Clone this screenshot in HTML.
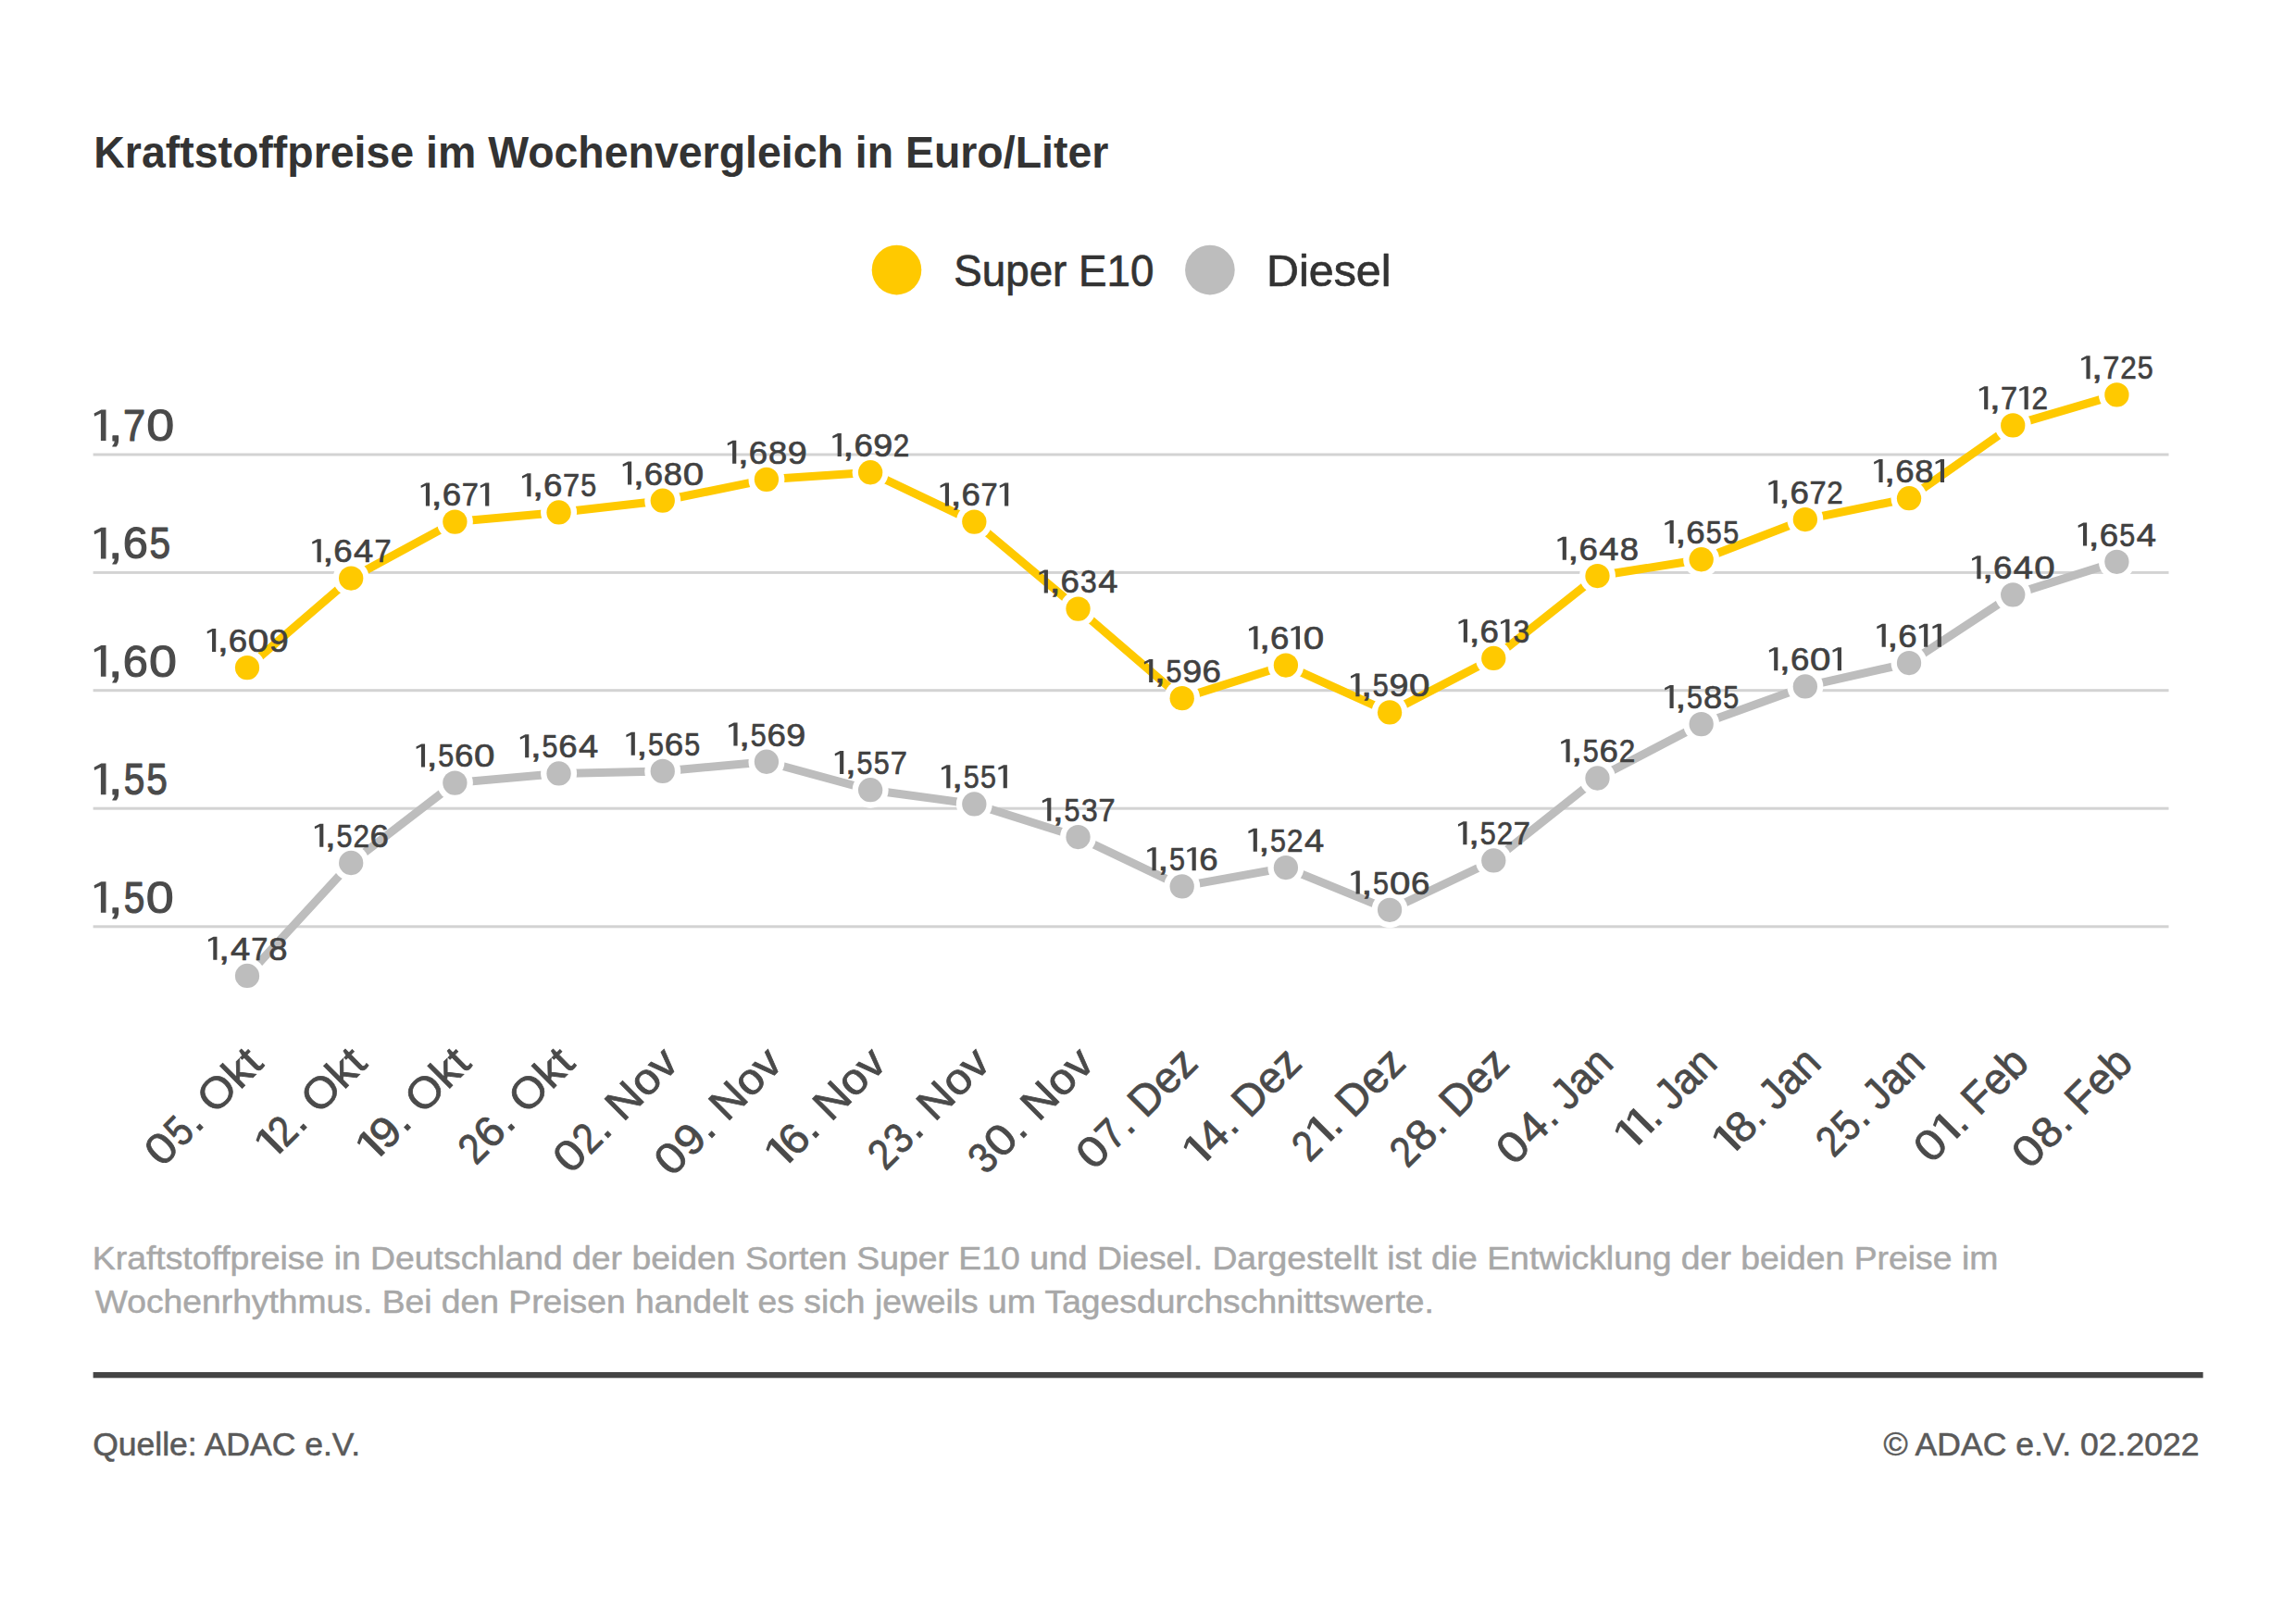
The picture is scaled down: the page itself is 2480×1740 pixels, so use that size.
<!DOCTYPE html>
<html><head><meta charset="utf-8"><style>
html,body{margin:0;padding:0;background:#fff;}
svg{display:block;}
text{font-family:"Liberation Sans",sans-serif;}
</style></head><body>
<svg width="2480" height="1740" viewBox="0 0 2480 1740">
<rect width="2480" height="1740" fill="#fff"/>
<text x="101.30" y="180.80" font-size="48.40" font-weight="bold" fill="#333333" textLength="1096.01" lengthAdjust="spacingAndGlyphs">Kraftstoffpreise im Wochenvergleich in Euro/Liter</text>
<circle cx="968.5" cy="291.6" r="26.8" fill="#FFC900"/>
<text x="1030.32" y="308.50" font-size="47.68" fill="#333333" textLength="216.06" lengthAdjust="spacingAndGlyphs" stroke="#333333" stroke-width="0.7" stroke-linejoin="round">Super E10</text>
<circle cx="1306.9" cy="291.6" r="26.8" fill="#BDBDBD"/>
<text x="1368.03" y="308.50" font-size="47.68" fill="#333333" textLength="134.51" lengthAdjust="spacingAndGlyphs" stroke="#333333" stroke-width="0.7" stroke-linejoin="round">Diesel</text>
<rect x="100.6" y="489.50" width="2241.90" height="3" fill="#D3D3D3"/>
<rect x="100.6" y="616.90" width="2241.90" height="3" fill="#D3D3D3"/>
<rect x="100.6" y="744.20" width="2241.90" height="3" fill="#D3D3D3"/>
<rect x="100.6" y="871.70" width="2241.90" height="3" fill="#D3D3D3"/>
<rect x="100.6" y="999.30" width="2241.90" height="3" fill="#D3D3D3"/>
<path d="M108.91,442.40H114.49V476.00H108.91V446.60L102.03,449.79L101.60,446.43L109.34,442.40Z" fill="#4a4a4a"/>
<text x="116.75" y="476.00" font-size="47.82" fill="#4a4a4a" textLength="15.90" lengthAdjust="spacingAndGlyphs" stroke="#4a4a4a" stroke-width="1.1" stroke-linejoin="round">,</text>
<text x="133.09" y="476.00" font-size="47.82" fill="#4a4a4a" textLength="24.17" lengthAdjust="spacingAndGlyphs" stroke="#4a4a4a" stroke-width="1.1" stroke-linejoin="round">7</text>
<text x="158.37" y="476.00" font-size="47.82" fill="#4a4a4a" textLength="29.94" lengthAdjust="spacingAndGlyphs" stroke="#4a4a4a" stroke-width="1.1" stroke-linejoin="round">0</text>
<path d="M108.91,569.80H114.49V603.40H108.91V574.00L102.03,577.19L101.60,573.83L109.34,569.80Z" fill="#4a4a4a"/>
<text x="116.75" y="603.40" font-size="47.82" fill="#4a4a4a" textLength="15.90" lengthAdjust="spacingAndGlyphs" stroke="#4a4a4a" stroke-width="1.1" stroke-linejoin="round">,</text>
<text x="132.84" y="603.40" font-size="47.82" fill="#4a4a4a" textLength="27.13" lengthAdjust="spacingAndGlyphs" stroke="#4a4a4a" stroke-width="1.1" stroke-linejoin="round">6</text>
<text x="161.60" y="603.40" font-size="47.82" fill="#4a4a4a" textLength="22.61" lengthAdjust="spacingAndGlyphs" stroke="#4a4a4a" stroke-width="1.1" stroke-linejoin="round">5</text>
<path d="M108.91,697.10H114.49V730.70H108.91V701.30L102.03,704.49L101.60,701.13L109.34,697.10Z" fill="#4a4a4a"/>
<text x="116.75" y="730.70" font-size="47.82" fill="#4a4a4a" textLength="15.90" lengthAdjust="spacingAndGlyphs" stroke="#4a4a4a" stroke-width="1.1" stroke-linejoin="round">,</text>
<text x="132.84" y="730.70" font-size="47.82" fill="#4a4a4a" textLength="27.13" lengthAdjust="spacingAndGlyphs" stroke="#4a4a4a" stroke-width="1.1" stroke-linejoin="round">6</text>
<text x="161.13" y="730.70" font-size="47.82" fill="#4a4a4a" textLength="29.94" lengthAdjust="spacingAndGlyphs" stroke="#4a4a4a" stroke-width="1.1" stroke-linejoin="round">0</text>
<path d="M108.91,824.60H114.49V858.20H108.91V828.80L102.03,831.99L101.60,828.63L109.34,824.60Z" fill="#4a4a4a"/>
<text x="116.75" y="858.20" font-size="47.82" fill="#4a4a4a" textLength="15.90" lengthAdjust="spacingAndGlyphs" stroke="#4a4a4a" stroke-width="1.1" stroke-linejoin="round">,</text>
<text x="133.69" y="858.20" font-size="47.82" fill="#4a4a4a" textLength="22.61" lengthAdjust="spacingAndGlyphs" stroke="#4a4a4a" stroke-width="1.1" stroke-linejoin="round">5</text>
<text x="158.37" y="858.20" font-size="47.82" fill="#4a4a4a" textLength="22.61" lengthAdjust="spacingAndGlyphs" stroke="#4a4a4a" stroke-width="1.1" stroke-linejoin="round">5</text>
<path d="M108.91,952.20H114.49V985.80H108.91V956.40L102.03,959.59L101.60,956.23L109.34,952.20Z" fill="#4a4a4a"/>
<text x="116.75" y="985.80" font-size="47.82" fill="#4a4a4a" textLength="15.90" lengthAdjust="spacingAndGlyphs" stroke="#4a4a4a" stroke-width="1.1" stroke-linejoin="round">,</text>
<text x="133.69" y="985.80" font-size="47.82" fill="#4a4a4a" textLength="22.61" lengthAdjust="spacingAndGlyphs" stroke="#4a4a4a" stroke-width="1.1" stroke-linejoin="round">5</text>
<text x="157.89" y="985.80" font-size="47.82" fill="#4a4a4a" textLength="29.94" lengthAdjust="spacingAndGlyphs" stroke="#4a4a4a" stroke-width="1.1" stroke-linejoin="round">0</text>
<polyline points="267.00,1053.93 379.19,931.98 491.38,845.60 603.57,835.44 715.76,832.90 827.95,822.74 940.14,853.22 1052.33,868.47 1164.52,904.04 1276.71,957.39 1388.90,937.06 1501.09,982.80 1613.28,929.44 1725.47,840.52 1837.66,782.09 1949.85,741.44 2062.04,716.03 2174.23,642.35 2286.42,606.78" fill="none" stroke="#BDBDBD" stroke-width="9" stroke-linejoin="round"/>
<polyline points="267.00,721.11 379.19,624.57 491.38,563.59 603.57,553.43 715.76,540.72 827.95,517.86 940.14,510.24 1052.33,563.59 1164.52,657.59 1276.71,754.14 1388.90,718.57 1501.09,769.38 1613.28,710.95 1725.47,622.03 1837.66,604.24 1949.85,561.05 2062.04,538.18 2174.23,459.42 2286.42,426.40" fill="none" stroke="#FFC900" stroke-width="9" stroke-linejoin="round"/>
<circle cx="267.00" cy="1053.93" r="19.5" fill="#fff"/>
<circle cx="267.00" cy="1053.93" r="13.15" fill="#BDBDBD"/>
<circle cx="379.19" cy="931.98" r="19.5" fill="#fff"/>
<circle cx="379.19" cy="931.98" r="13.15" fill="#BDBDBD"/>
<circle cx="491.38" cy="845.60" r="19.5" fill="#fff"/>
<circle cx="491.38" cy="845.60" r="13.15" fill="#BDBDBD"/>
<circle cx="603.57" cy="835.44" r="19.5" fill="#fff"/>
<circle cx="603.57" cy="835.44" r="13.15" fill="#BDBDBD"/>
<circle cx="715.76" cy="832.90" r="19.5" fill="#fff"/>
<circle cx="715.76" cy="832.90" r="13.15" fill="#BDBDBD"/>
<circle cx="827.95" cy="822.74" r="19.5" fill="#fff"/>
<circle cx="827.95" cy="822.74" r="13.15" fill="#BDBDBD"/>
<circle cx="940.14" cy="853.22" r="19.5" fill="#fff"/>
<circle cx="940.14" cy="853.22" r="13.15" fill="#BDBDBD"/>
<circle cx="1052.33" cy="868.47" r="19.5" fill="#fff"/>
<circle cx="1052.33" cy="868.47" r="13.15" fill="#BDBDBD"/>
<circle cx="1164.52" cy="904.04" r="19.5" fill="#fff"/>
<circle cx="1164.52" cy="904.04" r="13.15" fill="#BDBDBD"/>
<circle cx="1276.71" cy="957.39" r="19.5" fill="#fff"/>
<circle cx="1276.71" cy="957.39" r="13.15" fill="#BDBDBD"/>
<circle cx="1388.90" cy="937.06" r="19.5" fill="#fff"/>
<circle cx="1388.90" cy="937.06" r="13.15" fill="#BDBDBD"/>
<circle cx="1501.09" cy="982.80" r="19.5" fill="#fff"/>
<circle cx="1501.09" cy="982.80" r="13.15" fill="#BDBDBD"/>
<circle cx="1613.28" cy="929.44" r="19.5" fill="#fff"/>
<circle cx="1613.28" cy="929.44" r="13.15" fill="#BDBDBD"/>
<circle cx="1725.47" cy="840.52" r="19.5" fill="#fff"/>
<circle cx="1725.47" cy="840.52" r="13.15" fill="#BDBDBD"/>
<circle cx="1837.66" cy="782.09" r="19.5" fill="#fff"/>
<circle cx="1837.66" cy="782.09" r="13.15" fill="#BDBDBD"/>
<circle cx="1949.85" cy="741.44" r="19.5" fill="#fff"/>
<circle cx="1949.85" cy="741.44" r="13.15" fill="#BDBDBD"/>
<circle cx="2062.04" cy="716.03" r="19.5" fill="#fff"/>
<circle cx="2062.04" cy="716.03" r="13.15" fill="#BDBDBD"/>
<circle cx="2174.23" cy="642.35" r="19.5" fill="#fff"/>
<circle cx="2174.23" cy="642.35" r="13.15" fill="#BDBDBD"/>
<circle cx="2286.42" cy="606.78" r="19.5" fill="#fff"/>
<circle cx="2286.42" cy="606.78" r="13.15" fill="#BDBDBD"/>
<circle cx="267.00" cy="721.11" r="19.5" fill="#fff"/>
<circle cx="267.00" cy="721.11" r="13.15" fill="#FFC900"/>
<circle cx="379.19" cy="624.57" r="19.5" fill="#fff"/>
<circle cx="379.19" cy="624.57" r="13.15" fill="#FFC900"/>
<circle cx="491.38" cy="563.59" r="19.5" fill="#fff"/>
<circle cx="491.38" cy="563.59" r="13.15" fill="#FFC900"/>
<circle cx="603.57" cy="553.43" r="19.5" fill="#fff"/>
<circle cx="603.57" cy="553.43" r="13.15" fill="#FFC900"/>
<circle cx="715.76" cy="540.72" r="19.5" fill="#fff"/>
<circle cx="715.76" cy="540.72" r="13.15" fill="#FFC900"/>
<circle cx="827.95" cy="517.86" r="19.5" fill="#fff"/>
<circle cx="827.95" cy="517.86" r="13.15" fill="#FFC900"/>
<circle cx="940.14" cy="510.24" r="19.5" fill="#fff"/>
<circle cx="940.14" cy="510.24" r="13.15" fill="#FFC900"/>
<circle cx="1052.33" cy="563.59" r="19.5" fill="#fff"/>
<circle cx="1052.33" cy="563.59" r="13.15" fill="#FFC900"/>
<circle cx="1164.52" cy="657.59" r="19.5" fill="#fff"/>
<circle cx="1164.52" cy="657.59" r="13.15" fill="#FFC900"/>
<circle cx="1276.71" cy="754.14" r="19.5" fill="#fff"/>
<circle cx="1276.71" cy="754.14" r="13.15" fill="#FFC900"/>
<circle cx="1388.90" cy="718.57" r="19.5" fill="#fff"/>
<circle cx="1388.90" cy="718.57" r="13.15" fill="#FFC900"/>
<circle cx="1501.09" cy="769.38" r="19.5" fill="#fff"/>
<circle cx="1501.09" cy="769.38" r="13.15" fill="#FFC900"/>
<circle cx="1613.28" cy="710.95" r="19.5" fill="#fff"/>
<circle cx="1613.28" cy="710.95" r="13.15" fill="#FFC900"/>
<circle cx="1725.47" cy="622.03" r="19.5" fill="#fff"/>
<circle cx="1725.47" cy="622.03" r="13.15" fill="#FFC900"/>
<circle cx="1837.66" cy="604.24" r="19.5" fill="#fff"/>
<circle cx="1837.66" cy="604.24" r="13.15" fill="#FFC900"/>
<circle cx="1949.85" cy="561.05" r="19.5" fill="#fff"/>
<circle cx="1949.85" cy="561.05" r="13.15" fill="#FFC900"/>
<circle cx="2062.04" cy="538.18" r="19.5" fill="#fff"/>
<circle cx="2062.04" cy="538.18" r="13.15" fill="#FFC900"/>
<circle cx="2174.23" cy="459.42" r="19.5" fill="#fff"/>
<circle cx="2174.23" cy="459.42" r="13.15" fill="#FFC900"/>
<circle cx="2286.42" cy="426.40" r="19.5" fill="#fff"/>
<circle cx="2286.42" cy="426.40" r="13.15" fill="#FFC900"/>
<path d="M230.28,1011.73H234.44V1036.73H230.28V1014.86L225.15,1017.23L224.84,1014.73L230.59,1011.73Z" fill="#414141"/>
<text x="235.95" y="1036.73" font-size="35.90" fill="#414141" textLength="12.17" lengthAdjust="spacingAndGlyphs" stroke="#414141" stroke-width="0.7" stroke-linejoin="round">,</text>
<text x="249.01" y="1036.73" font-size="35.90" fill="#414141" textLength="21.23" lengthAdjust="spacingAndGlyphs" stroke="#414141" stroke-width="0.7" stroke-linejoin="round">4</text>
<text x="271.35" y="1036.73" font-size="35.90" fill="#414141" textLength="18.14" lengthAdjust="spacingAndGlyphs" stroke="#414141" stroke-width="0.7" stroke-linejoin="round">7</text>
<text x="290.18" y="1036.73" font-size="35.90" fill="#414141" textLength="20.22" lengthAdjust="spacingAndGlyphs" stroke="#414141" stroke-width="0.7" stroke-linejoin="round">8</text>
<path d="M345.18,889.78H349.34V914.78H345.18V892.91L340.06,895.28L339.74,892.78L345.50,889.78Z" fill="#414141"/>
<text x="350.85" y="914.78" font-size="35.90" fill="#414141" textLength="12.17" lengthAdjust="spacingAndGlyphs" stroke="#414141" stroke-width="0.7" stroke-linejoin="round">,</text>
<text x="363.57" y="914.78" font-size="35.90" fill="#414141" textLength="16.97" lengthAdjust="spacingAndGlyphs" stroke="#414141" stroke-width="0.7" stroke-linejoin="round">5</text>
<text x="381.58" y="914.78" font-size="35.90" fill="#414141" textLength="17.52" lengthAdjust="spacingAndGlyphs" stroke="#414141" stroke-width="0.7" stroke-linejoin="round">2</text>
<text x="399.55" y="914.78" font-size="35.90" fill="#414141" textLength="20.35" lengthAdjust="spacingAndGlyphs" stroke="#414141" stroke-width="0.7" stroke-linejoin="round">6</text>
<path d="M454.91,803.40H459.06V828.40H454.91V806.53L449.78,808.90L449.46,806.40L455.22,803.40Z" fill="#414141"/>
<text x="460.58" y="828.40" font-size="35.90" fill="#414141" textLength="12.17" lengthAdjust="spacingAndGlyphs" stroke="#414141" stroke-width="0.7" stroke-linejoin="round">,</text>
<text x="473.29" y="828.40" font-size="35.90" fill="#414141" textLength="16.97" lengthAdjust="spacingAndGlyphs" stroke="#414141" stroke-width="0.7" stroke-linejoin="round">5</text>
<text x="491.03" y="828.40" font-size="35.90" fill="#414141" textLength="20.35" lengthAdjust="spacingAndGlyphs" stroke="#414141" stroke-width="0.7" stroke-linejoin="round">6</text>
<text x="512.09" y="828.40" font-size="35.90" fill="#414141" textLength="22.43" lengthAdjust="spacingAndGlyphs" stroke="#414141" stroke-width="0.7" stroke-linejoin="round">0</text>
<path d="M567.12,793.24H571.27V818.24H567.12V796.36L561.99,798.74L561.67,796.24L567.43,793.24Z" fill="#414141"/>
<text x="572.79" y="818.24" font-size="35.90" fill="#414141" textLength="12.17" lengthAdjust="spacingAndGlyphs" stroke="#414141" stroke-width="0.7" stroke-linejoin="round">,</text>
<text x="585.50" y="818.24" font-size="35.90" fill="#414141" textLength="16.97" lengthAdjust="spacingAndGlyphs" stroke="#414141" stroke-width="0.7" stroke-linejoin="round">5</text>
<text x="603.24" y="818.24" font-size="35.90" fill="#414141" textLength="20.35" lengthAdjust="spacingAndGlyphs" stroke="#414141" stroke-width="0.7" stroke-linejoin="round">6</text>
<text x="625.00" y="818.24" font-size="35.90" fill="#414141" textLength="21.23" lengthAdjust="spacingAndGlyphs" stroke="#414141" stroke-width="0.7" stroke-linejoin="round">4</text>
<path d="M681.69,790.70H685.85V815.70H681.69V793.82L676.57,796.20L676.25,793.70L682.01,790.70Z" fill="#414141"/>
<text x="687.36" y="815.70" font-size="35.90" fill="#414141" textLength="12.17" lengthAdjust="spacingAndGlyphs" stroke="#414141" stroke-width="0.7" stroke-linejoin="round">,</text>
<text x="700.08" y="815.70" font-size="35.90" fill="#414141" textLength="16.97" lengthAdjust="spacingAndGlyphs" stroke="#414141" stroke-width="0.7" stroke-linejoin="round">5</text>
<text x="717.81" y="815.70" font-size="35.90" fill="#414141" textLength="20.35" lengthAdjust="spacingAndGlyphs" stroke="#414141" stroke-width="0.7" stroke-linejoin="round">6</text>
<text x="739.23" y="815.70" font-size="35.90" fill="#414141" textLength="16.97" lengthAdjust="spacingAndGlyphs" stroke="#414141" stroke-width="0.7" stroke-linejoin="round">5</text>
<path d="M792.40,780.54H796.56V805.54H792.40V783.66L787.28,786.04L786.96,783.54L792.72,780.54Z" fill="#414141"/>
<text x="798.07" y="805.54" font-size="35.90" fill="#414141" textLength="12.17" lengthAdjust="spacingAndGlyphs" stroke="#414141" stroke-width="0.7" stroke-linejoin="round">,</text>
<text x="810.79" y="805.54" font-size="35.90" fill="#414141" textLength="16.97" lengthAdjust="spacingAndGlyphs" stroke="#414141" stroke-width="0.7" stroke-linejoin="round">5</text>
<text x="828.52" y="805.54" font-size="35.90" fill="#414141" textLength="20.35" lengthAdjust="spacingAndGlyphs" stroke="#414141" stroke-width="0.7" stroke-linejoin="round">6</text>
<text x="849.39" y="805.54" font-size="35.90" fill="#414141" textLength="20.99" lengthAdjust="spacingAndGlyphs" stroke="#414141" stroke-width="0.7" stroke-linejoin="round">9</text>
<path d="M907.10,811.02H911.25V836.02H907.10V814.15L901.97,816.52L901.65,814.02L907.41,811.02Z" fill="#414141"/>
<text x="912.77" y="836.02" font-size="35.90" fill="#414141" textLength="12.17" lengthAdjust="spacingAndGlyphs" stroke="#414141" stroke-width="0.7" stroke-linejoin="round">,</text>
<text x="925.48" y="836.02" font-size="35.90" fill="#414141" textLength="16.97" lengthAdjust="spacingAndGlyphs" stroke="#414141" stroke-width="0.7" stroke-linejoin="round">5</text>
<text x="943.85" y="836.02" font-size="35.90" fill="#414141" textLength="16.97" lengthAdjust="spacingAndGlyphs" stroke="#414141" stroke-width="0.7" stroke-linejoin="round">5</text>
<text x="961.77" y="836.02" font-size="35.90" fill="#414141" textLength="18.14" lengthAdjust="spacingAndGlyphs" stroke="#414141" stroke-width="0.7" stroke-linejoin="round">7</text>
<path d="M1022.25,826.27H1026.41V851.27H1022.25V829.39L1017.13,831.77L1016.81,829.27L1022.57,826.27Z" fill="#414141"/>
<text x="1027.92" y="851.27" font-size="35.90" fill="#414141" textLength="12.17" lengthAdjust="spacingAndGlyphs" stroke="#414141" stroke-width="0.7" stroke-linejoin="round">,</text>
<text x="1040.64" y="851.27" font-size="35.90" fill="#414141" textLength="16.97" lengthAdjust="spacingAndGlyphs" stroke="#414141" stroke-width="0.7" stroke-linejoin="round">5</text>
<text x="1059.01" y="851.27" font-size="35.90" fill="#414141" textLength="16.97" lengthAdjust="spacingAndGlyphs" stroke="#414141" stroke-width="0.7" stroke-linejoin="round">5</text>
<path d="M1083.69,826.27H1087.85V851.27H1083.69V829.39L1078.57,831.77L1078.25,829.27L1084.01,826.27Z" fill="#414141"/>
<path d="M1131.18,861.84H1135.33V886.84H1131.18V864.96L1126.05,867.34L1125.73,864.84L1131.49,861.84Z" fill="#414141"/>
<text x="1136.85" y="886.84" font-size="35.90" fill="#414141" textLength="12.17" lengthAdjust="spacingAndGlyphs" stroke="#414141" stroke-width="0.7" stroke-linejoin="round">,</text>
<text x="1149.56" y="886.84" font-size="35.90" fill="#414141" textLength="16.97" lengthAdjust="spacingAndGlyphs" stroke="#414141" stroke-width="0.7" stroke-linejoin="round">5</text>
<text x="1167.94" y="886.84" font-size="35.90" fill="#414141" textLength="17.68" lengthAdjust="spacingAndGlyphs" stroke="#414141" stroke-width="0.7" stroke-linejoin="round">3</text>
<text x="1186.45" y="886.84" font-size="35.90" fill="#414141" textLength="18.14" lengthAdjust="spacingAndGlyphs" stroke="#414141" stroke-width="0.7" stroke-linejoin="round">7</text>
<path d="M1244.53,915.19H1248.68V940.19H1244.53V918.31L1239.40,920.69L1239.09,918.19L1244.85,915.19Z" fill="#414141"/>
<text x="1250.20" y="940.19" font-size="35.90" fill="#414141" textLength="12.17" lengthAdjust="spacingAndGlyphs" stroke="#414141" stroke-width="0.7" stroke-linejoin="round">,</text>
<text x="1262.91" y="940.19" font-size="35.90" fill="#414141" textLength="16.97" lengthAdjust="spacingAndGlyphs" stroke="#414141" stroke-width="0.7" stroke-linejoin="round">5</text>
<path d="M1287.60,915.19H1291.75V940.19H1287.60V918.31L1282.47,920.69L1282.15,918.19L1287.91,915.19Z" fill="#414141"/>
<text x="1295.25" y="940.19" font-size="35.90" fill="#414141" textLength="20.35" lengthAdjust="spacingAndGlyphs" stroke="#414141" stroke-width="0.7" stroke-linejoin="round">6</text>
<path d="M1353.71,894.86H1357.87V919.86H1353.71V897.99L1348.59,900.36L1348.27,897.86L1354.03,894.86Z" fill="#414141"/>
<text x="1359.38" y="919.86" font-size="35.90" fill="#414141" textLength="12.17" lengthAdjust="spacingAndGlyphs" stroke="#414141" stroke-width="0.7" stroke-linejoin="round">,</text>
<text x="1372.10" y="919.86" font-size="35.90" fill="#414141" textLength="16.97" lengthAdjust="spacingAndGlyphs" stroke="#414141" stroke-width="0.7" stroke-linejoin="round">5</text>
<text x="1390.11" y="919.86" font-size="35.90" fill="#414141" textLength="17.52" lengthAdjust="spacingAndGlyphs" stroke="#414141" stroke-width="0.7" stroke-linejoin="round">2</text>
<text x="1409.06" y="919.86" font-size="35.90" fill="#414141" textLength="21.23" lengthAdjust="spacingAndGlyphs" stroke="#414141" stroke-width="0.7" stroke-linejoin="round">4</text>
<path d="M1464.62,940.60H1468.77V965.60H1464.62V943.72L1459.49,946.10L1459.17,943.60L1464.93,940.60Z" fill="#414141"/>
<text x="1470.29" y="965.60" font-size="35.90" fill="#414141" textLength="12.17" lengthAdjust="spacingAndGlyphs" stroke="#414141" stroke-width="0.7" stroke-linejoin="round">,</text>
<text x="1483.00" y="965.60" font-size="35.90" fill="#414141" textLength="16.97" lengthAdjust="spacingAndGlyphs" stroke="#414141" stroke-width="0.7" stroke-linejoin="round">5</text>
<text x="1501.02" y="965.60" font-size="35.90" fill="#414141" textLength="22.43" lengthAdjust="spacingAndGlyphs" stroke="#414141" stroke-width="0.7" stroke-linejoin="round">0</text>
<text x="1523.92" y="965.60" font-size="35.90" fill="#414141" textLength="20.35" lengthAdjust="spacingAndGlyphs" stroke="#414141" stroke-width="0.7" stroke-linejoin="round">6</text>
<path d="M1580.30,887.24H1584.45V912.24H1580.30V890.37L1575.17,892.74L1574.86,890.24L1580.62,887.24Z" fill="#414141"/>
<text x="1585.97" y="912.24" font-size="35.90" fill="#414141" textLength="12.17" lengthAdjust="spacingAndGlyphs" stroke="#414141" stroke-width="0.7" stroke-linejoin="round">,</text>
<text x="1598.68" y="912.24" font-size="35.90" fill="#414141" textLength="16.97" lengthAdjust="spacingAndGlyphs" stroke="#414141" stroke-width="0.7" stroke-linejoin="round">5</text>
<text x="1616.69" y="912.24" font-size="35.90" fill="#414141" textLength="17.52" lengthAdjust="spacingAndGlyphs" stroke="#414141" stroke-width="0.7" stroke-linejoin="round">2</text>
<text x="1634.85" y="912.24" font-size="35.90" fill="#414141" textLength="18.14" lengthAdjust="spacingAndGlyphs" stroke="#414141" stroke-width="0.7" stroke-linejoin="round">7</text>
<path d="M1691.46,798.32H1695.62V823.32H1691.46V801.45L1686.34,803.82L1686.02,801.32L1691.78,798.32Z" fill="#414141"/>
<text x="1697.13" y="823.32" font-size="35.90" fill="#414141" textLength="12.17" lengthAdjust="spacingAndGlyphs" stroke="#414141" stroke-width="0.7" stroke-linejoin="round">,</text>
<text x="1709.85" y="823.32" font-size="35.90" fill="#414141" textLength="16.97" lengthAdjust="spacingAndGlyphs" stroke="#414141" stroke-width="0.7" stroke-linejoin="round">5</text>
<text x="1727.58" y="823.32" font-size="35.90" fill="#414141" textLength="20.35" lengthAdjust="spacingAndGlyphs" stroke="#414141" stroke-width="0.7" stroke-linejoin="round">6</text>
<text x="1748.64" y="823.32" font-size="35.90" fill="#414141" textLength="17.52" lengthAdjust="spacingAndGlyphs" stroke="#414141" stroke-width="0.7" stroke-linejoin="round">2</text>
<path d="M1803.50,739.89H1807.66V764.89H1803.50V743.01L1798.38,745.39L1798.06,742.89L1803.82,739.89Z" fill="#414141"/>
<text x="1809.17" y="764.89" font-size="35.90" fill="#414141" textLength="12.17" lengthAdjust="spacingAndGlyphs" stroke="#414141" stroke-width="0.7" stroke-linejoin="round">,</text>
<text x="1821.89" y="764.89" font-size="35.90" fill="#414141" textLength="16.97" lengthAdjust="spacingAndGlyphs" stroke="#414141" stroke-width="0.7" stroke-linejoin="round">5</text>
<text x="1839.90" y="764.89" font-size="35.90" fill="#414141" textLength="20.22" lengthAdjust="spacingAndGlyphs" stroke="#414141" stroke-width="0.7" stroke-linejoin="round">8</text>
<text x="1861.22" y="764.89" font-size="35.90" fill="#414141" textLength="16.97" lengthAdjust="spacingAndGlyphs" stroke="#414141" stroke-width="0.7" stroke-linejoin="round">5</text>
<path d="M1916.16,699.24H1920.32V724.24H1916.16V702.36L1911.04,704.74L1910.72,702.24L1916.48,699.24Z" fill="#414141"/>
<text x="1921.83" y="724.24" font-size="35.90" fill="#414141" textLength="12.17" lengthAdjust="spacingAndGlyphs" stroke="#414141" stroke-width="0.7" stroke-linejoin="round">,</text>
<text x="1933.91" y="724.24" font-size="35.90" fill="#414141" textLength="20.35" lengthAdjust="spacingAndGlyphs" stroke="#414141" stroke-width="0.7" stroke-linejoin="round">6</text>
<text x="1954.97" y="724.24" font-size="35.90" fill="#414141" textLength="22.43" lengthAdjust="spacingAndGlyphs" stroke="#414141" stroke-width="0.7" stroke-linejoin="round">0</text>
<path d="M1984.82,699.24H1988.98V724.24H1984.82V702.36L1979.70,704.74L1979.38,702.24L1985.14,699.24Z" fill="#414141"/>
<path d="M2032.64,673.83H2036.80V698.83H2032.64V676.95L2027.52,679.33L2027.20,676.83L2032.96,673.83Z" fill="#414141"/>
<text x="2038.31" y="698.83" font-size="35.90" fill="#414141" textLength="12.17" lengthAdjust="spacingAndGlyphs" stroke="#414141" stroke-width="0.7" stroke-linejoin="round">,</text>
<text x="2050.39" y="698.83" font-size="35.90" fill="#414141" textLength="20.35" lengthAdjust="spacingAndGlyphs" stroke="#414141" stroke-width="0.7" stroke-linejoin="round">6</text>
<path d="M2078.12,673.83H2082.28V698.83H2078.12V676.95L2073.00,679.33L2072.68,676.83L2078.44,673.83Z" fill="#414141"/>
<path d="M2092.72,673.83H2096.88V698.83H2092.72V676.95L2087.60,679.33L2087.28,676.83L2093.04,673.83Z" fill="#414141"/>
<path d="M2135.37,600.15H2139.53V625.15H2135.37V603.28L2130.25,605.65L2129.93,603.15L2135.69,600.15Z" fill="#414141"/>
<text x="2141.04" y="625.15" font-size="35.90" fill="#414141" textLength="12.17" lengthAdjust="spacingAndGlyphs" stroke="#414141" stroke-width="0.7" stroke-linejoin="round">,</text>
<text x="2153.12" y="625.15" font-size="35.90" fill="#414141" textLength="20.35" lengthAdjust="spacingAndGlyphs" stroke="#414141" stroke-width="0.7" stroke-linejoin="round">6</text>
<text x="2174.88" y="625.15" font-size="35.90" fill="#414141" textLength="21.23" lengthAdjust="spacingAndGlyphs" stroke="#414141" stroke-width="0.7" stroke-linejoin="round">4</text>
<text x="2197.32" y="625.15" font-size="35.90" fill="#414141" textLength="22.43" lengthAdjust="spacingAndGlyphs" stroke="#414141" stroke-width="0.7" stroke-linejoin="round">0</text>
<path d="M2249.97,564.58H2254.12V589.58H2249.97V567.71L2244.84,570.08L2244.53,567.58L2250.29,564.58Z" fill="#414141"/>
<text x="2255.64" y="589.58" font-size="35.90" fill="#414141" textLength="12.17" lengthAdjust="spacingAndGlyphs" stroke="#414141" stroke-width="0.7" stroke-linejoin="round">,</text>
<text x="2267.72" y="589.58" font-size="35.90" fill="#414141" textLength="20.35" lengthAdjust="spacingAndGlyphs" stroke="#414141" stroke-width="0.7" stroke-linejoin="round">6</text>
<text x="2289.13" y="589.58" font-size="35.90" fill="#414141" textLength="16.97" lengthAdjust="spacingAndGlyphs" stroke="#414141" stroke-width="0.7" stroke-linejoin="round">5</text>
<text x="2307.85" y="589.58" font-size="35.90" fill="#414141" textLength="21.23" lengthAdjust="spacingAndGlyphs" stroke="#414141" stroke-width="0.7" stroke-linejoin="round">4</text>
<path d="M229.05,678.91H233.21V703.91H229.05V682.04L223.92,684.41L223.61,681.91L229.37,678.91Z" fill="#414141"/>
<text x="234.72" y="703.91" font-size="35.90" fill="#414141" textLength="12.17" lengthAdjust="spacingAndGlyphs" stroke="#414141" stroke-width="0.7" stroke-linejoin="round">,</text>
<text x="246.80" y="703.91" font-size="35.90" fill="#414141" textLength="20.35" lengthAdjust="spacingAndGlyphs" stroke="#414141" stroke-width="0.7" stroke-linejoin="round">6</text>
<text x="267.86" y="703.91" font-size="35.90" fill="#414141" textLength="22.43" lengthAdjust="spacingAndGlyphs" stroke="#414141" stroke-width="0.7" stroke-linejoin="round">0</text>
<text x="290.85" y="703.91" font-size="35.90" fill="#414141" textLength="20.99" lengthAdjust="spacingAndGlyphs" stroke="#414141" stroke-width="0.7" stroke-linejoin="round">9</text>
<path d="M342.56,582.37H346.72V607.37H342.56V585.49L337.43,587.87L337.12,585.37L342.88,582.37Z" fill="#414141"/>
<text x="348.23" y="607.37" font-size="35.90" fill="#414141" textLength="12.17" lengthAdjust="spacingAndGlyphs" stroke="#414141" stroke-width="0.7" stroke-linejoin="round">,</text>
<text x="360.31" y="607.37" font-size="35.90" fill="#414141" textLength="20.35" lengthAdjust="spacingAndGlyphs" stroke="#414141" stroke-width="0.7" stroke-linejoin="round">6</text>
<text x="382.07" y="607.37" font-size="35.90" fill="#414141" textLength="21.23" lengthAdjust="spacingAndGlyphs" stroke="#414141" stroke-width="0.7" stroke-linejoin="round">4</text>
<text x="404.41" y="607.37" font-size="35.90" fill="#414141" textLength="18.14" lengthAdjust="spacingAndGlyphs" stroke="#414141" stroke-width="0.7" stroke-linejoin="round">7</text>
<path d="M459.92,521.39H464.08V546.39H459.92V524.52L454.79,526.89L454.48,524.39L460.24,521.39Z" fill="#414141"/>
<text x="465.59" y="546.39" font-size="35.90" fill="#414141" textLength="12.17" lengthAdjust="spacingAndGlyphs" stroke="#414141" stroke-width="0.7" stroke-linejoin="round">,</text>
<text x="477.67" y="546.39" font-size="35.90" fill="#414141" textLength="20.35" lengthAdjust="spacingAndGlyphs" stroke="#414141" stroke-width="0.7" stroke-linejoin="round">6</text>
<text x="498.63" y="546.39" font-size="35.90" fill="#414141" textLength="18.14" lengthAdjust="spacingAndGlyphs" stroke="#414141" stroke-width="0.7" stroke-linejoin="round">7</text>
<path d="M524.13,521.39H528.28V546.39H524.13V524.52L519.00,526.89L518.68,524.39L524.44,521.39Z" fill="#414141"/>
<path d="M569.32,511.23H573.48V536.23H569.32V514.35L564.20,516.73L563.88,514.23L569.64,511.23Z" fill="#414141"/>
<text x="574.99" y="536.23" font-size="35.90" fill="#414141" textLength="12.17" lengthAdjust="spacingAndGlyphs" stroke="#414141" stroke-width="0.7" stroke-linejoin="round">,</text>
<text x="587.07" y="536.23" font-size="35.90" fill="#414141" textLength="20.35" lengthAdjust="spacingAndGlyphs" stroke="#414141" stroke-width="0.7" stroke-linejoin="round">6</text>
<text x="608.04" y="536.23" font-size="35.90" fill="#414141" textLength="18.14" lengthAdjust="spacingAndGlyphs" stroke="#414141" stroke-width="0.7" stroke-linejoin="round">7</text>
<text x="627.22" y="536.23" font-size="35.90" fill="#414141" textLength="16.97" lengthAdjust="spacingAndGlyphs" stroke="#414141" stroke-width="0.7" stroke-linejoin="round">5</text>
<path d="M677.99,498.52H682.15V523.52H677.99V501.65L672.87,504.02L672.55,501.52L678.31,498.52Z" fill="#414141"/>
<text x="683.66" y="523.52" font-size="35.90" fill="#414141" textLength="12.17" lengthAdjust="spacingAndGlyphs" stroke="#414141" stroke-width="0.7" stroke-linejoin="round">,</text>
<text x="695.74" y="523.52" font-size="35.90" fill="#414141" textLength="20.35" lengthAdjust="spacingAndGlyphs" stroke="#414141" stroke-width="0.7" stroke-linejoin="round">6</text>
<text x="716.80" y="523.52" font-size="35.90" fill="#414141" textLength="20.22" lengthAdjust="spacingAndGlyphs" stroke="#414141" stroke-width="0.7" stroke-linejoin="round">8</text>
<text x="737.76" y="523.52" font-size="35.90" fill="#414141" textLength="22.43" lengthAdjust="spacingAndGlyphs" stroke="#414141" stroke-width="0.7" stroke-linejoin="round">0</text>
<path d="M791.11,475.66H795.27V500.66H791.11V478.78L785.98,481.16L785.67,478.66L791.43,475.66Z" fill="#414141"/>
<text x="796.78" y="500.66" font-size="35.90" fill="#414141" textLength="12.17" lengthAdjust="spacingAndGlyphs" stroke="#414141" stroke-width="0.7" stroke-linejoin="round">,</text>
<text x="808.86" y="500.66" font-size="35.90" fill="#414141" textLength="20.35" lengthAdjust="spacingAndGlyphs" stroke="#414141" stroke-width="0.7" stroke-linejoin="round">6</text>
<text x="829.92" y="500.66" font-size="35.90" fill="#414141" textLength="20.22" lengthAdjust="spacingAndGlyphs" stroke="#414141" stroke-width="0.7" stroke-linejoin="round">8</text>
<text x="850.69" y="500.66" font-size="35.90" fill="#414141" textLength="20.99" lengthAdjust="spacingAndGlyphs" stroke="#414141" stroke-width="0.7" stroke-linejoin="round">9</text>
<path d="M904.65,468.04H908.81V493.04H904.65V471.16L899.53,473.54L899.21,471.04L904.97,468.04Z" fill="#414141"/>
<text x="910.32" y="493.04" font-size="35.90" fill="#414141" textLength="12.17" lengthAdjust="spacingAndGlyphs" stroke="#414141" stroke-width="0.7" stroke-linejoin="round">,</text>
<text x="922.40" y="493.04" font-size="35.90" fill="#414141" textLength="20.35" lengthAdjust="spacingAndGlyphs" stroke="#414141" stroke-width="0.7" stroke-linejoin="round">6</text>
<text x="943.27" y="493.04" font-size="35.90" fill="#414141" textLength="20.99" lengthAdjust="spacingAndGlyphs" stroke="#414141" stroke-width="0.7" stroke-linejoin="round">9</text>
<text x="964.79" y="493.04" font-size="35.90" fill="#414141" textLength="17.52" lengthAdjust="spacingAndGlyphs" stroke="#414141" stroke-width="0.7" stroke-linejoin="round">2</text>
<path d="M1020.87,521.39H1025.02V546.39H1020.87V524.52L1015.74,526.89L1015.42,524.39L1021.18,521.39Z" fill="#414141"/>
<text x="1026.54" y="546.39" font-size="35.90" fill="#414141" textLength="12.17" lengthAdjust="spacingAndGlyphs" stroke="#414141" stroke-width="0.7" stroke-linejoin="round">,</text>
<text x="1038.62" y="546.39" font-size="35.90" fill="#414141" textLength="20.35" lengthAdjust="spacingAndGlyphs" stroke="#414141" stroke-width="0.7" stroke-linejoin="round">6</text>
<text x="1059.58" y="546.39" font-size="35.90" fill="#414141" textLength="18.14" lengthAdjust="spacingAndGlyphs" stroke="#414141" stroke-width="0.7" stroke-linejoin="round">7</text>
<path d="M1085.08,521.39H1089.23V546.39H1085.08V524.52L1079.95,526.89L1079.63,524.39L1085.39,521.39Z" fill="#414141"/>
<path d="M1127.77,615.39H1131.92V640.39H1127.77V618.52L1122.64,620.89L1122.33,618.39L1128.09,615.39Z" fill="#414141"/>
<text x="1133.44" y="640.39" font-size="35.90" fill="#414141" textLength="12.17" lengthAdjust="spacingAndGlyphs" stroke="#414141" stroke-width="0.7" stroke-linejoin="round">,</text>
<text x="1145.52" y="640.39" font-size="35.90" fill="#414141" textLength="20.35" lengthAdjust="spacingAndGlyphs" stroke="#414141" stroke-width="0.7" stroke-linejoin="round">6</text>
<text x="1166.94" y="640.39" font-size="35.90" fill="#414141" textLength="17.68" lengthAdjust="spacingAndGlyphs" stroke="#414141" stroke-width="0.7" stroke-linejoin="round">3</text>
<text x="1186.25" y="640.39" font-size="35.90" fill="#414141" textLength="21.23" lengthAdjust="spacingAndGlyphs" stroke="#414141" stroke-width="0.7" stroke-linejoin="round">4</text>
<path d="M1241.16,711.94H1245.32V736.94H1241.16V715.06L1236.04,717.44L1235.72,714.94L1241.48,711.94Z" fill="#414141"/>
<text x="1246.83" y="736.94" font-size="35.90" fill="#414141" textLength="12.17" lengthAdjust="spacingAndGlyphs" stroke="#414141" stroke-width="0.7" stroke-linejoin="round">,</text>
<text x="1259.55" y="736.94" font-size="35.90" fill="#414141" textLength="16.97" lengthAdjust="spacingAndGlyphs" stroke="#414141" stroke-width="0.7" stroke-linejoin="round">5</text>
<text x="1277.37" y="736.94" font-size="35.90" fill="#414141" textLength="20.99" lengthAdjust="spacingAndGlyphs" stroke="#414141" stroke-width="0.7" stroke-linejoin="round">9</text>
<text x="1298.61" y="736.94" font-size="35.90" fill="#414141" textLength="20.35" lengthAdjust="spacingAndGlyphs" stroke="#414141" stroke-width="0.7" stroke-linejoin="round">6</text>
<path d="M1354.31,676.37H1358.47V701.37H1354.31V679.49L1349.19,681.87L1348.87,679.37L1354.63,676.37Z" fill="#414141"/>
<text x="1359.98" y="701.37" font-size="35.90" fill="#414141" textLength="12.17" lengthAdjust="spacingAndGlyphs" stroke="#414141" stroke-width="0.7" stroke-linejoin="round">,</text>
<text x="1372.06" y="701.37" font-size="35.90" fill="#414141" textLength="20.35" lengthAdjust="spacingAndGlyphs" stroke="#414141" stroke-width="0.7" stroke-linejoin="round">6</text>
<path d="M1399.79,676.37H1403.95V701.37H1399.79V679.49L1394.67,681.87L1394.35,679.37L1400.11,676.37Z" fill="#414141"/>
<text x="1407.72" y="701.37" font-size="35.90" fill="#414141" textLength="22.43" lengthAdjust="spacingAndGlyphs" stroke="#414141" stroke-width="0.7" stroke-linejoin="round">0</text>
<path d="M1464.34,727.18H1468.50V752.18H1464.34V730.31L1459.22,732.68L1458.90,730.18L1464.66,727.18Z" fill="#414141"/>
<text x="1470.01" y="752.18" font-size="35.90" fill="#414141" textLength="12.17" lengthAdjust="spacingAndGlyphs" stroke="#414141" stroke-width="0.7" stroke-linejoin="round">,</text>
<text x="1482.73" y="752.18" font-size="35.90" fill="#414141" textLength="16.97" lengthAdjust="spacingAndGlyphs" stroke="#414141" stroke-width="0.7" stroke-linejoin="round">5</text>
<text x="1500.55" y="752.18" font-size="35.90" fill="#414141" textLength="20.99" lengthAdjust="spacingAndGlyphs" stroke="#414141" stroke-width="0.7" stroke-linejoin="round">9</text>
<text x="1522.07" y="752.18" font-size="35.90" fill="#414141" textLength="22.43" lengthAdjust="spacingAndGlyphs" stroke="#414141" stroke-width="0.7" stroke-linejoin="round">0</text>
<path d="M1580.80,668.75H1584.95V693.75H1580.80V671.87L1575.67,674.25L1575.36,671.75L1581.12,668.75Z" fill="#414141"/>
<text x="1586.47" y="693.75" font-size="35.90" fill="#414141" textLength="12.17" lengthAdjust="spacingAndGlyphs" stroke="#414141" stroke-width="0.7" stroke-linejoin="round">,</text>
<text x="1598.55" y="693.75" font-size="35.90" fill="#414141" textLength="20.35" lengthAdjust="spacingAndGlyphs" stroke="#414141" stroke-width="0.7" stroke-linejoin="round">6</text>
<path d="M1626.28,668.75H1630.43V693.75H1626.28V671.87L1621.15,674.25L1620.84,671.75L1626.60,668.75Z" fill="#414141"/>
<text x="1634.57" y="693.75" font-size="35.90" fill="#414141" textLength="17.68" lengthAdjust="spacingAndGlyphs" stroke="#414141" stroke-width="0.7" stroke-linejoin="round">3</text>
<path d="M1687.72,579.83H1691.88V604.83H1687.72V582.95L1682.60,585.33L1682.28,582.83L1688.04,579.83Z" fill="#414141"/>
<text x="1693.39" y="604.83" font-size="35.90" fill="#414141" textLength="12.17" lengthAdjust="spacingAndGlyphs" stroke="#414141" stroke-width="0.7" stroke-linejoin="round">,</text>
<text x="1705.47" y="604.83" font-size="35.90" fill="#414141" textLength="20.35" lengthAdjust="spacingAndGlyphs" stroke="#414141" stroke-width="0.7" stroke-linejoin="round">6</text>
<text x="1727.23" y="604.83" font-size="35.90" fill="#414141" textLength="21.23" lengthAdjust="spacingAndGlyphs" stroke="#414141" stroke-width="0.7" stroke-linejoin="round">4</text>
<text x="1749.67" y="604.83" font-size="35.90" fill="#414141" textLength="20.22" lengthAdjust="spacingAndGlyphs" stroke="#414141" stroke-width="0.7" stroke-linejoin="round">8</text>
<path d="M1803.59,562.04H1807.75V587.04H1803.59V565.17L1798.47,567.54L1798.15,565.04L1803.91,562.04Z" fill="#414141"/>
<text x="1809.26" y="587.04" font-size="35.90" fill="#414141" textLength="12.17" lengthAdjust="spacingAndGlyphs" stroke="#414141" stroke-width="0.7" stroke-linejoin="round">,</text>
<text x="1821.34" y="587.04" font-size="35.90" fill="#414141" textLength="20.35" lengthAdjust="spacingAndGlyphs" stroke="#414141" stroke-width="0.7" stroke-linejoin="round">6</text>
<text x="1842.76" y="587.04" font-size="35.90" fill="#414141" textLength="16.97" lengthAdjust="spacingAndGlyphs" stroke="#414141" stroke-width="0.7" stroke-linejoin="round">5</text>
<text x="1861.13" y="587.04" font-size="35.90" fill="#414141" textLength="16.97" lengthAdjust="spacingAndGlyphs" stroke="#414141" stroke-width="0.7" stroke-linejoin="round">5</text>
<path d="M1915.66,518.85H1919.82V543.85H1915.66V521.97L1910.54,524.35L1910.22,521.85L1915.98,518.85Z" fill="#414141"/>
<text x="1921.33" y="543.85" font-size="35.90" fill="#414141" textLength="12.17" lengthAdjust="spacingAndGlyphs" stroke="#414141" stroke-width="0.7" stroke-linejoin="round">,</text>
<text x="1933.41" y="543.85" font-size="35.90" fill="#414141" textLength="20.35" lengthAdjust="spacingAndGlyphs" stroke="#414141" stroke-width="0.7" stroke-linejoin="round">6</text>
<text x="1954.38" y="543.85" font-size="35.90" fill="#414141" textLength="18.14" lengthAdjust="spacingAndGlyphs" stroke="#414141" stroke-width="0.7" stroke-linejoin="round">7</text>
<text x="1973.20" y="543.85" font-size="35.90" fill="#414141" textLength="17.52" lengthAdjust="spacingAndGlyphs" stroke="#414141" stroke-width="0.7" stroke-linejoin="round">2</text>
<path d="M2029.46,495.98H2033.62V520.98H2029.46V499.11L2024.34,501.48L2024.02,498.98L2029.78,495.98Z" fill="#414141"/>
<text x="2035.13" y="520.98" font-size="35.90" fill="#414141" textLength="12.17" lengthAdjust="spacingAndGlyphs" stroke="#414141" stroke-width="0.7" stroke-linejoin="round">,</text>
<text x="2047.21" y="520.98" font-size="35.90" fill="#414141" textLength="20.35" lengthAdjust="spacingAndGlyphs" stroke="#414141" stroke-width="0.7" stroke-linejoin="round">6</text>
<text x="2068.27" y="520.98" font-size="35.90" fill="#414141" textLength="20.22" lengthAdjust="spacingAndGlyphs" stroke="#414141" stroke-width="0.7" stroke-linejoin="round">8</text>
<path d="M2095.90,495.98H2100.06V520.98H2095.90V499.11L2090.78,501.48L2090.46,498.98L2096.22,495.98Z" fill="#414141"/>
<path d="M2143.13,417.22H2147.29V442.22H2143.13V420.35L2138.01,422.72L2137.69,420.22L2143.45,417.22Z" fill="#414141"/>
<text x="2148.80" y="442.22" font-size="35.90" fill="#414141" textLength="12.17" lengthAdjust="spacingAndGlyphs" stroke="#414141" stroke-width="0.7" stroke-linejoin="round">,</text>
<text x="2161.07" y="442.22" font-size="35.90" fill="#414141" textLength="18.14" lengthAdjust="spacingAndGlyphs" stroke="#414141" stroke-width="0.7" stroke-linejoin="round">7</text>
<path d="M2186.56,417.22H2190.72V442.22H2186.56V420.35L2181.44,422.72L2181.12,420.22L2186.88,417.22Z" fill="#414141"/>
<text x="2194.49" y="442.22" font-size="35.90" fill="#414141" textLength="17.52" lengthAdjust="spacingAndGlyphs" stroke="#414141" stroke-width="0.7" stroke-linejoin="round">2</text>
<path d="M2253.44,384.20H2257.59V409.20H2253.44V387.32L2248.31,389.70L2247.99,387.20L2253.76,384.20Z" fill="#414141"/>
<text x="2259.11" y="409.20" font-size="35.90" fill="#414141" textLength="12.17" lengthAdjust="spacingAndGlyphs" stroke="#414141" stroke-width="0.7" stroke-linejoin="round">,</text>
<text x="2271.37" y="409.20" font-size="35.90" fill="#414141" textLength="18.14" lengthAdjust="spacingAndGlyphs" stroke="#414141" stroke-width="0.7" stroke-linejoin="round">7</text>
<text x="2290.19" y="409.20" font-size="35.90" fill="#414141" textLength="17.52" lengthAdjust="spacingAndGlyphs" stroke="#414141" stroke-width="0.7" stroke-linejoin="round">2</text>
<text x="2308.80" y="409.20" font-size="35.90" fill="#414141" textLength="16.97" lengthAdjust="spacingAndGlyphs" stroke="#414141" stroke-width="0.7" stroke-linejoin="round">5</text>
<g transform="translate(286.30 1150.50) rotate(-45)"><text x="-157.25" y="0.00" font-size="46.22" fill="#4a4a4a" textLength="28.99" lengthAdjust="spacingAndGlyphs" stroke="#4a4a4a" stroke-width="0.8" stroke-linejoin="round">0</text>
<text x="-126.96" y="0.00" font-size="46.22" fill="#4a4a4a" textLength="21.96" lengthAdjust="spacingAndGlyphs" stroke="#4a4a4a" stroke-width="0.8" stroke-linejoin="round">5</text>
<text x="-104.19" y="0" font-size="47.00" fill="#4a4a4a" stroke="#4a4a4a" stroke-width="0.8" textLength="104.19" lengthAdjust="spacingAndGlyphs">. Okt</text></g>
<g transform="translate(398.49 1150.50) rotate(-45)"><path d="M-135.78,-32.80H-129.74V0.00H-135.78V-28.70L-143.23,-25.58L-143.69,-28.86L-135.32,-32.80Z" fill="#4a4a4a"/>
<text x="-127.27" y="0.00" font-size="46.22" fill="#4a4a4a" textLength="22.67" lengthAdjust="spacingAndGlyphs" stroke="#4a4a4a" stroke-width="0.8" stroke-linejoin="round">2</text>
<text x="-104.19" y="0" font-size="47.00" fill="#4a4a4a" stroke="#4a4a4a" stroke-width="0.8" textLength="104.19" lengthAdjust="spacingAndGlyphs">. Okt</text></g>
<g transform="translate(510.68 1150.50) rotate(-45)"><path d="M-139.75,-32.80H-133.70V0.00H-139.75V-28.70L-147.20,-25.58L-147.66,-28.86L-139.29,-32.80Z" fill="#4a4a4a"/>
<text x="-131.47" y="0.00" font-size="46.22" fill="#4a4a4a" textLength="27.13" lengthAdjust="spacingAndGlyphs" stroke="#4a4a4a" stroke-width="0.8" stroke-linejoin="round">9</text>
<text x="-104.19" y="0" font-size="47.00" fill="#4a4a4a" stroke="#4a4a4a" stroke-width="0.8" textLength="104.19" lengthAdjust="spacingAndGlyphs">. Okt</text></g>
<g transform="translate(622.87 1150.50) rotate(-45)"><text x="-154.02" y="0.00" font-size="46.22" fill="#4a4a4a" textLength="22.67" lengthAdjust="spacingAndGlyphs" stroke="#4a4a4a" stroke-width="0.8" stroke-linejoin="round">2</text>
<text x="-130.88" y="0.00" font-size="46.22" fill="#4a4a4a" textLength="26.31" lengthAdjust="spacingAndGlyphs" stroke="#4a4a4a" stroke-width="0.8" stroke-linejoin="round">6</text>
<text x="-104.19" y="0" font-size="47.00" fill="#4a4a4a" stroke="#4a4a4a" stroke-width="0.8" textLength="104.19" lengthAdjust="spacingAndGlyphs">. Okt</text></g>
<g transform="translate(735.06 1150.50) rotate(-45)"><text x="-168.08" y="0.00" font-size="46.22" fill="#4a4a4a" textLength="28.99" lengthAdjust="spacingAndGlyphs" stroke="#4a4a4a" stroke-width="0.8" stroke-linejoin="round">0</text>
<text x="-138.26" y="0.00" font-size="46.22" fill="#4a4a4a" textLength="22.67" lengthAdjust="spacingAndGlyphs" stroke="#4a4a4a" stroke-width="0.8" stroke-linejoin="round">2</text>
<text x="-115.18" y="0" font-size="47.00" fill="#4a4a4a" stroke="#4a4a4a" stroke-width="0.8" textLength="115.18" lengthAdjust="spacingAndGlyphs">. Nov</text></g>
<g transform="translate(847.25 1150.50) rotate(-45)"><text x="-172.04" y="0.00" font-size="46.22" fill="#4a4a4a" textLength="28.99" lengthAdjust="spacingAndGlyphs" stroke="#4a4a4a" stroke-width="0.8" stroke-linejoin="round">0</text>
<text x="-142.46" y="0.00" font-size="46.22" fill="#4a4a4a" textLength="27.13" lengthAdjust="spacingAndGlyphs" stroke="#4a4a4a" stroke-width="0.8" stroke-linejoin="round">9</text>
<text x="-115.18" y="0" font-size="47.00" fill="#4a4a4a" stroke="#4a4a4a" stroke-width="0.8" textLength="115.18" lengthAdjust="spacingAndGlyphs">. Nov</text></g>
<g transform="translate(959.44 1150.50) rotate(-45)"><path d="M-150.03,-32.80H-143.99V0.00H-150.03V-28.70L-157.48,-25.58L-157.94,-28.86L-149.57,-32.80Z" fill="#4a4a4a"/>
<text x="-141.87" y="0.00" font-size="46.22" fill="#4a4a4a" textLength="26.31" lengthAdjust="spacingAndGlyphs" stroke="#4a4a4a" stroke-width="0.8" stroke-linejoin="round">6</text>
<text x="-115.18" y="0" font-size="47.00" fill="#4a4a4a" stroke="#4a4a4a" stroke-width="0.8" textLength="115.18" lengthAdjust="spacingAndGlyphs">. Nov</text></g>
<g transform="translate(1071.63 1150.50) rotate(-45)"><text x="-162.68" y="0.00" font-size="46.22" fill="#4a4a4a" textLength="22.67" lengthAdjust="spacingAndGlyphs" stroke="#4a4a4a" stroke-width="0.8" stroke-linejoin="round">2</text>
<text x="-138.70" y="0.00" font-size="46.22" fill="#4a4a4a" textLength="22.87" lengthAdjust="spacingAndGlyphs" stroke="#4a4a4a" stroke-width="0.8" stroke-linejoin="round">3</text>
<text x="-115.18" y="0" font-size="47.00" fill="#4a4a4a" stroke="#4a4a4a" stroke-width="0.8" textLength="115.18" lengthAdjust="spacingAndGlyphs">. Nov</text></g>
<g transform="translate(1183.82 1150.50) rotate(-45)"><text x="-168.54" y="0.00" font-size="46.22" fill="#4a4a4a" textLength="22.87" lengthAdjust="spacingAndGlyphs" stroke="#4a4a4a" stroke-width="0.8" stroke-linejoin="round">3</text>
<text x="-144.59" y="0.00" font-size="46.22" fill="#4a4a4a" textLength="28.99" lengthAdjust="spacingAndGlyphs" stroke="#4a4a4a" stroke-width="0.8" stroke-linejoin="round">0</text>
<text x="-115.18" y="0" font-size="47.00" fill="#4a4a4a" stroke="#4a4a4a" stroke-width="0.8" textLength="115.18" lengthAdjust="spacingAndGlyphs">. Nov</text></g>
<g transform="translate(1296.01 1150.50) rotate(-45)"><text x="-162.20" y="0.00" font-size="46.22" fill="#4a4a4a" textLength="28.99" lengthAdjust="spacingAndGlyphs" stroke="#4a4a4a" stroke-width="0.8" stroke-linejoin="round">0</text>
<text x="-132.49" y="0.00" font-size="46.22" fill="#4a4a4a" textLength="23.47" lengthAdjust="spacingAndGlyphs" stroke="#4a4a4a" stroke-width="0.8" stroke-linejoin="round">7</text>
<text x="-108.68" y="0" font-size="47.00" fill="#4a4a4a" stroke="#4a4a4a" stroke-width="0.8" textLength="108.68" lengthAdjust="spacingAndGlyphs">. Dez</text></g>
<g transform="translate(1408.20 1150.50) rotate(-45)"><path d="M-146.56,-32.80H-140.52V0.00H-146.56V-28.70L-154.01,-25.58L-154.47,-28.86L-146.10,-32.80Z" fill="#4a4a4a"/>
<text x="-137.14" y="0.00" font-size="46.22" fill="#4a4a4a" textLength="27.44" lengthAdjust="spacingAndGlyphs" stroke="#4a4a4a" stroke-width="0.8" stroke-linejoin="round">4</text>
<text x="-108.68" y="0" font-size="47.00" fill="#4a4a4a" stroke="#4a4a4a" stroke-width="0.8" textLength="108.68" lengthAdjust="spacingAndGlyphs">. Dez</text></g>
<g transform="translate(1520.39 1150.50) rotate(-45)"><text x="-149.83" y="0.00" font-size="46.22" fill="#4a4a4a" textLength="22.67" lengthAdjust="spacingAndGlyphs" stroke="#4a4a4a" stroke-width="0.8" stroke-linejoin="round">2</text>
<path d="M-116.78,-32.80H-110.74V0.00H-116.78V-28.70L-124.23,-25.58L-124.69,-28.86L-116.32,-32.80Z" fill="#4a4a4a"/>
<text x="-108.68" y="0" font-size="47.00" fill="#4a4a4a" stroke="#4a4a4a" stroke-width="0.8" textLength="108.68" lengthAdjust="spacingAndGlyphs">. Dez</text></g>
<g transform="translate(1632.58 1150.50) rotate(-45)"><text x="-158.74" y="0.00" font-size="46.22" fill="#4a4a4a" textLength="22.67" lengthAdjust="spacingAndGlyphs" stroke="#4a4a4a" stroke-width="0.8" stroke-linejoin="round">2</text>
<text x="-135.24" y="0.00" font-size="46.22" fill="#4a4a4a" textLength="26.14" lengthAdjust="spacingAndGlyphs" stroke="#4a4a4a" stroke-width="0.8" stroke-linejoin="round">8</text>
<text x="-108.68" y="0" font-size="47.00" fill="#4a4a4a" stroke="#4a4a4a" stroke-width="0.8" textLength="108.68" lengthAdjust="spacingAndGlyphs">. Dez</text></g>
<g transform="translate(1744.77 1150.50) rotate(-45)"><text x="-155.18" y="0.00" font-size="46.22" fill="#4a4a4a" textLength="28.99" lengthAdjust="spacingAndGlyphs" stroke="#4a4a4a" stroke-width="0.8" stroke-linejoin="round">0</text>
<text x="-124.44" y="0.00" font-size="46.22" fill="#4a4a4a" textLength="27.44" lengthAdjust="spacingAndGlyphs" stroke="#4a4a4a" stroke-width="0.8" stroke-linejoin="round">4</text>
<text x="-95.99" y="0" font-size="47.00" fill="#4a4a4a" stroke="#4a4a4a" stroke-width="0.8" textLength="95.99" lengthAdjust="spacingAndGlyphs">. Jan</text></g>
<g transform="translate(1856.96 1150.50) rotate(-45)"><path d="M-122.16,-32.80H-116.12V0.00H-122.16V-28.70L-129.61,-25.58L-130.07,-28.86L-121.70,-32.80Z" fill="#4a4a4a"/>
<path d="M-104.09,-32.80H-98.05V0.00H-104.09V-28.70L-111.54,-25.58L-112.00,-28.86L-103.63,-32.80Z" fill="#4a4a4a"/>
<text x="-95.99" y="0" font-size="47.00" fill="#4a4a4a" stroke="#4a4a4a" stroke-width="0.8" textLength="95.99" lengthAdjust="spacingAndGlyphs">. Jan</text></g>
<g transform="translate(1969.15 1150.50) rotate(-45)"><path d="M-131.06,-32.80H-125.02V0.00H-131.06V-28.70L-138.51,-25.58L-138.98,-28.86L-130.60,-32.80Z" fill="#4a4a4a"/>
<text x="-122.55" y="0.00" font-size="46.22" fill="#4a4a4a" textLength="26.14" lengthAdjust="spacingAndGlyphs" stroke="#4a4a4a" stroke-width="0.8" stroke-linejoin="round">8</text>
<text x="-95.99" y="0" font-size="47.00" fill="#4a4a4a" stroke="#4a4a4a" stroke-width="0.8" textLength="95.99" lengthAdjust="spacingAndGlyphs">. Jan</text></g>
<g transform="translate(2081.34 1150.50) rotate(-45)"><text x="-142.71" y="0.00" font-size="46.22" fill="#4a4a4a" textLength="22.67" lengthAdjust="spacingAndGlyphs" stroke="#4a4a4a" stroke-width="0.8" stroke-linejoin="round">2</text>
<text x="-118.75" y="0.00" font-size="46.22" fill="#4a4a4a" textLength="21.96" lengthAdjust="spacingAndGlyphs" stroke="#4a4a4a" stroke-width="0.8" stroke-linejoin="round">5</text>
<text x="-95.99" y="0" font-size="47.00" fill="#4a4a4a" stroke="#4a4a4a" stroke-width="0.8" textLength="95.99" lengthAdjust="spacingAndGlyphs">. Jan</text></g>
<g transform="translate(2193.53 1150.50) rotate(-45)"><text x="-151.94" y="0.00" font-size="46.22" fill="#4a4a4a" textLength="28.99" lengthAdjust="spacingAndGlyphs" stroke="#4a4a4a" stroke-width="0.8" stroke-linejoin="round">0</text>
<path d="M-112.56,-32.80H-106.52V0.00H-112.56V-28.70L-120.01,-25.58L-120.47,-28.86L-112.10,-32.80Z" fill="#4a4a4a"/>
<text x="-104.46" y="0" font-size="47.00" fill="#4a4a4a" stroke="#4a4a4a" stroke-width="0.8" textLength="104.46" lengthAdjust="spacingAndGlyphs">. Feb</text></g>
<g transform="translate(2305.72 1150.50) rotate(-45)"><text x="-160.84" y="0.00" font-size="46.22" fill="#4a4a4a" textLength="28.99" lengthAdjust="spacingAndGlyphs" stroke="#4a4a4a" stroke-width="0.8" stroke-linejoin="round">0</text>
<text x="-131.02" y="0.00" font-size="46.22" fill="#4a4a4a" textLength="26.14" lengthAdjust="spacingAndGlyphs" stroke="#4a4a4a" stroke-width="0.8" stroke-linejoin="round">8</text>
<text x="-104.46" y="0" font-size="47.00" fill="#4a4a4a" stroke="#4a4a4a" stroke-width="0.8" textLength="104.46" lengthAdjust="spacingAndGlyphs">. Feb</text></g>
<text x="99.84" y="1371.20" font-size="35.32" fill="#a8a8a8" textLength="2058.52" lengthAdjust="spacingAndGlyphs" stroke="#a8a8a8" stroke-width="0.5" stroke-linejoin="round">Kraftstoffpreise in Deutschland der beiden Sorten Super E10 und Diesel. Dargestellt ist die Entwicklung der beiden Preise im</text>
<text x="102.74" y="1418.20" font-size="35.32" fill="#a8a8a8" textLength="1446.15" lengthAdjust="spacingAndGlyphs" stroke="#a8a8a8" stroke-width="0.5" stroke-linejoin="round">Wochenrhythmus. Bei den Preisen handelt es sich jeweils um Tagesdurchschnittswerte.</text>
<rect x="100.6" y="1482" width="2279" height="6.3" fill="#454545"/>
<text x="100.15" y="1572.40" font-size="35.90" fill="#5a5a5a" textLength="289.04" lengthAdjust="spacingAndGlyphs" stroke="#5a5a5a" stroke-width="0.6" stroke-linejoin="round">Quelle: ADAC e.V.</text>
<text x="2034.47" y="1572.40" font-size="35.90" fill="#5a5a5a" textLength="340.99" lengthAdjust="spacingAndGlyphs" stroke="#5a5a5a" stroke-width="0.6" stroke-linejoin="round">© ADAC e.V. 02.2022</text>
</svg>
</body></html>
